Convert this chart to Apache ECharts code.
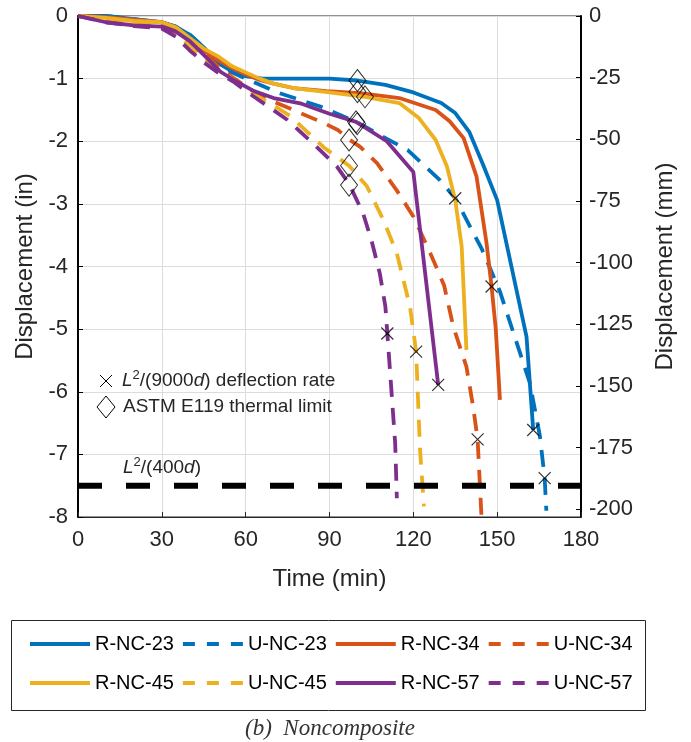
<!DOCTYPE html>
<html><head><meta charset="utf-8">
<script src="https://cdn.jsdelivr.net/npm/echarts@6/dist/echarts.min.js"></script>
<style>html,body{margin:0;padding:0;background:#fff}#c{width:691px;height:742px}</style>
</head><body><div id="c"></div>
<script>
// ---- data (time in min, displacement in inches) ----
const xTicks = [0, 30, 60, 90, 120, 150, 180];
const mmTicks = [0, -25, -50, -75, -100, -125, -150, -175, -200];
const seriesNames = ['R-NC-23','U-NC-23','R-NC-34','U-NC-34','R-NC-45','U-NC-45','R-NC-57','U-NC-57'];

const RNC23 = [[0,0],[10,0],[20,-0.05],[30,-0.1],[35,-0.17],[40,-0.3],[45,-0.5],[50,-0.75],[55,-0.88],[60,-0.96],[66,-1.0],[90,-1.0],[100,-1.03],[110,-1.1],[120,-1.22],[130,-1.39],[135,-1.55],[140,-1.85],[145,-2.38],[150,-2.94],[160.5,-5.12],[162.9,-6.61]];
const UNC23 = [[0,0],[10,0],[20,-0.05],[30,-0.1],[35,-0.17],[40,-0.3],[45,-0.5],[50,-0.75],[55,-0.9],[60,-1.0],[72,-1.23],[87,-1.45],[100,-1.7],[108,-1.9],[118,-2.14],[129.5,-2.62],[135,-2.91],[144.5,-3.72],[151,-4.4],[157,-5.22],[161.7,-5.86],[165.3,-6.71],[167,-7.38],[167.6,-7.9]];
const RNC34 = [[0,0],[10,-0.02],[20,-0.06],[30,-0.1],[35,-0.18],[40,-0.36],[45,-0.55],[50,-0.7],[55,-0.83],[60,-0.93],[65,-1.02],[70,-1.08],[77,-1.15],[89,-1.2],[101,-1.23],[115,-1.31],[128,-1.5],[133,-1.68],[138,-1.95],[142.6,-2.56],[146.2,-3.63],[148,-4.32],[149.5,-5.0],[151,-6.13]];
const UNC34 = [[0,0],[10,-0.03],[20,-0.08],[30,-0.12],[35,-0.2],[40,-0.38],[45,-0.6],[50,-0.8],[55,-0.97],[60,-1.12],[65,-1.27],[77,-1.5],[88,-1.71],[93,-1.82],[97,-1.97],[101,-2.09],[107,-2.35],[114,-2.78],[120,-3.2],[126,-3.78],[131,-4.3],[134.3,-4.96],[139,-5.6],[141.4,-6.24],[143,-6.76],[144.4,-8.0]];
const RNC45 = [[0,0],[10,-0.03],[20,-0.08],[30,-0.1],[35,-0.18],[40,-0.35],[45,-0.52],[50,-0.64],[55,-0.8],[60,-0.9],[65,-1.0],[70,-1.08],[77,-1.15],[90,-1.22],[102.7,-1.29],[115,-1.39],[122,-1.63],[128,-1.98],[132,-2.4],[135,-2.94],[137.3,-3.68],[138.5,-4.85],[139,-5.33]];
const UNC45 = [[0,0],[10,-0.06],[20,-0.12],[30,-0.17],[35,-0.27],[40,-0.48],[45,-0.68],[50,-0.84],[56,-1.03],[63,-1.25],[70,-1.43],[76,-1.6],[82,-1.85],[88,-2.1],[97,-2.39],[103.4,-2.72],[109.3,-3.26],[114.1,-3.79],[118.8,-4.64],[121,-5.36],[122.4,-6.93],[123.8,-7.83]];
const RNC57 = [[0,0],[10,-0.1],[20,-0.15],[30,-0.17],[35,-0.25],[40,-0.4],[45,-0.62],[51,-0.89],[56,-1.03],[63,-1.2],[70,-1.31],[80,-1.4],[90,-1.56],[99.5,-1.69],[110.5,-2.0],[120,-2.49],[128.9,-5.89]];
const UNC57 = [[0,0],[10,-0.1],[20,-0.16],[30,-0.2],[35,-0.33],[40,-0.55],[45,-0.74],[50,-0.9],[56,-1.06],[63,-1.29],[75,-1.66],[84,-2.03],[92.6,-2.4],[97,-2.68],[102,-3.15],[105,-3.58],[108,-4.11],[110,-4.64],[110.7,-5.07],[113.5,-6.82],[114.1,-7.7]];

const thermalLimit = [[100,-1.03],[100,-1.21],[102.7,-1.29],[99.5,-1.69],[99.9,-1.72],[97,-1.98],[97,-2.39],[97,-2.7]];
const deflectionRate = [[135,-2.91],[148,-4.32],[110.7,-5.07],[121,-5.36],[128.9,-5.89],[143,-6.76],[162.9,-6.61],[167,-7.38]];
const limitL400 = -7.5;
const IN_TO_MM = 25.4;

// ---- styling ----
const C = {blue:'#0072BD', orange:'#D95319', yellow:'#EDB120', purple:'#7E2F8E'};
const FONT = '"Liberation Sans", Arial, sans-serif';
const TXT = '#262626';
const DASH = [17, 11];
const ICON_SOLID = 'path://M0,0H60V4H0Z';
const ICON_DASH = 'path://M0,0H12V4H0Z M24,0H36V4H24Z M48,0H60V4H48Z';

function lineSeries(name, data, color, dashed) {
  return {
    name, type: 'line', data, symbol: 'none', showSymbol: false, silent: true,
    yAxisIndex: 0, z: 3,
    lineStyle: {color, width: 3.8, type: dashed ? DASH : 'solid', cap: 'butt'},
    itemStyle: {color}
  };
}
function legendData(names) {
  return names.map(n => ({name: n, icon: n.charAt(0) === 'U' ? ICON_DASH : ICON_SOLID}));
}

const chart = echarts.init(document.getElementById('c'), null, {renderer: 'canvas'});
const legendCommon = {
  itemWidth: 60, itemHeight: 4, itemGap: 9, padding: 0,
  textStyle: {fontSize: 20, color: '#000', fontFamily: FONT},
  selectedMode: false
};
const richTxt = {
  n: {fontSize: 19, fontFamily: FONT, lineHeight: 24, color: TXT},
  i: {fontSize: 19, fontFamily: FONT, fontStyle: 'italic', lineHeight: 24, color: TXT},
  s: {fontSize: 13, fontFamily: FONT, lineHeight: 13, verticalAlign: 'top', color: TXT}
};

chart.setOption({
  animation: false,
  backgroundColor: '#fff',
  grid: {left: 78, right: 110, top: 16, bottom: 225, show: true, borderColor: TXT, borderWidth: 1, backgroundColor: 'transparent'},
  legend: [
    Object.assign({}, legendCommon, {data: legendData(seriesNames.slice(0,4)), left: 30, top: 634}),
    Object.assign({}, legendCommon, {data: legendData(seriesNames.slice(4,8)), left: 30, top: 673})
  ],
  xAxis: {
    type: 'value', min: xTicks[0], max: xTicks[xTicks.length-1], interval: 30,
    axisLine: {show: true, onZero: false, lineStyle: {color: TXT, width: 1}},
    axisTick: {show: true, inside: true, length: 5, lineStyle: {color: TXT}},
    axisLabel: {fontSize: 22, color: TXT, margin: 12, fontFamily: FONT},
    splitLine: {show: true, lineStyle: {color: '#dcdcdc', width: 1}},
    name: 'Time (min)', nameLocation: 'middle', nameGap: 50,
    nameTextStyle: {fontSize: 24, color: TXT, fontFamily: FONT}
  },
  yAxis: [
    {
      type: 'value', position: 'left', min: -8, max: 0, interval: 1,
      axisLine: {show: true, onZero: false, lineStyle: {color: '#000', width: 2}},
      axisTick: {show: true, inside: true, length: 5, lineStyle: {color: '#000'}},
      axisLabel: {fontSize: 22, color: TXT, margin: 10, fontFamily: FONT},
      splitLine: {show: true, lineStyle: {color: '#dcdcdc', width: 1}},
      name: 'Displacement (in)', nameLocation: 'middle', nameGap: 38,
      nameTextStyle: {fontSize: 24, color: TXT, fontFamily: FONT}
    },
    {
      type: 'value', position: 'right', min: -8 * IN_TO_MM, max: 0,
      axisLine: {show: true, onZero: false, lineStyle: {color: '#000', width: 2}},
      axisTick: {show: true, inside: true, length: 5, lineStyle: {color: '#000'}, customValues: mmTicks},
      axisLabel: {fontSize: 22, color: TXT, margin: 8, fontFamily: FONT, customValues: mmTicks},
      splitLine: {show: false},
      name: 'Displacement (mm)', nameLocation: 'middle', nameGap: 72,
      nameTextStyle: {fontSize: 24, color: TXT, fontFamily: FONT}
    }
  ],
  series: [
    lineSeries('R-NC-23', RNC23, C.blue, false),
    lineSeries('U-NC-23', UNC23, C.blue, true),
    lineSeries('R-NC-34', RNC34, C.orange, false),
    lineSeries('U-NC-34', UNC34, C.orange, true),
    lineSeries('R-NC-45', RNC45, C.yellow, false),
    lineSeries('U-NC-45', UNC45, C.yellow, true),
    lineSeries('R-NC-57', RNC57, C.purple, false),
    lineSeries('U-NC-57', UNC57, C.purple, true),
    {
      name: 'L400', type: 'line', silent: true, symbol: 'none', z: 4,
      data: [[xTicks[0], limitL400], [xTicks[xTicks.length-1], limitL400]],
      lineStyle: {color: '#000', width: 6, type: [24, 24], cap: 'butt'}
    },
    {
      name: 'thermal', type: 'scatter', silent: true, z: 6,
      data: thermalLimit, symbol: 'diamond', symbolSize: [17, 22],
      itemStyle: {color: 'rgba(0,0,0,0)', borderColor: '#000', borderWidth: 1}
    },
    {
      name: 'rate', type: 'scatter', silent: true, z: 6,
      data: deflectionRate, symbol: 'path://M0,0L10,10M10,0L0,10', symbolSize: 12,
      itemStyle: {color: 'rgba(0,0,0,0)', borderColor: '#000', borderWidth: 1.2}
    }
  ],
  graphic: [
    {type: 'line', shape: {x1: 100, y1: 375, x2: 112, y2: 387}, style: {stroke: '#000', lineWidth: 1}, z: 10},
    {type: 'line', shape: {x1: 112, y1: 375, x2: 100, y2: 387}, style: {stroke: '#000', lineWidth: 1}, z: 10},
    {type: 'text', x: 122, y: 381, z: 10, style: {
      text: '{i|L}{s|2}{n|/(9000}{i|d}{n|) deflection rate}', rich: richTxt,
      verticalAlign: 'middle', align: 'left', fill: TXT, font: '19px ' + FONT}},
    {type: 'polygon', z: 10, shape: {points: [[106,396],[115,407],[106,418],[97,407]]}, style: {fill: 'none', stroke: '#000', lineWidth: 1}},
    {type: 'text', x: 123, y: 407, z: 10, style: {
      text: '{n|ASTM E119 thermal limit}', rich: richTxt,
      verticalAlign: 'middle', align: 'left', fill: TXT, font: '19px ' + FONT}},
    {type: 'text', x: 123, y: 468, z: 10, style: {
      text: '{i|L}{s|2}{n|/(400}{i|d}{n|)}', rich: richTxt,
      verticalAlign: 'middle', align: 'left', fill: TXT, font: '19px ' + FONT}},
    {type: 'rect', z: 10, shape: {x: 11.5, y: 620.5, width: 634, height: 90}, style: {fill: 'none', stroke: TXT, lineWidth: 1}},
    {type: 'text', x: 330, y: 729, z: 10, style: {
      text: '(b)  Noncomposite', align: 'center', verticalAlign: 'middle',
      fill: '#333', font: 'italic 23px "Liberation Serif", "Times New Roman", serif'}}
  ]
});
</script></body></html>
